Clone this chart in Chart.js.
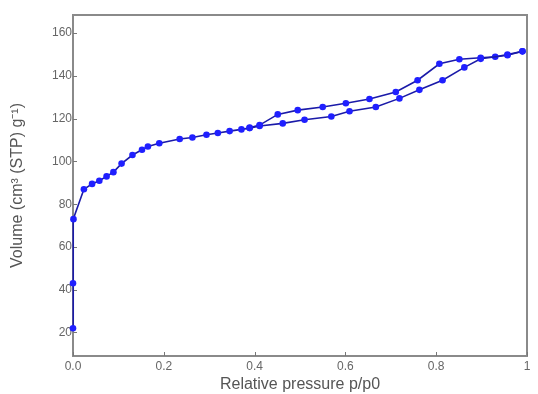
<!DOCTYPE html>
<html>
<head>
<meta charset="utf-8">
<script src="https://cdn.jsdelivr.net/npm/chart.js@4/dist/chart.umd.min.js"></script>
<style>
  html, body { margin: 0; padding: 0; background: #fff; }
  #wrap { width: 538px; height: 394px; }
</style>
</head>
<body>
<div id="wrap"><canvas id="isotherm" width="538" height="394"></canvas></div>
<script>
// 吸着枝 (adsorption)
const adsX = [0.0, 0.0, 0.001, 0.024, 0.042, 0.058, 0.074, 0.089, 0.107, 0.131, 0.152, 0.165, 0.19,
              0.235, 0.263, 0.294, 0.319, 0.345, 0.371, 0.389, 0.411, 0.462, 0.51, 0.569, 0.609,
              0.667, 0.719, 0.763, 0.814, 0.862, 0.898, 0.957, 0.99];
const adsY = [22, 43, 73, 87, 89.5, 91, 93, 95, 99, 103, 105.5, 107, 108.5,
              110.5, 111.2, 112.5, 113.3, 114.2, 115, 115.6, 116.6, 117.8, 119.5, 121, 123.5,
              125.5, 129.5, 133.5, 138, 144, 148, 149.7, 151.5];
// 脱着枝 (desorption)
const desX = [0.99, 0.957, 0.93, 0.898, 0.851, 0.807, 0.759, 0.711, 0.653, 0.601, 0.55, 0.495, 0.451, 0.411, 0.389];
const desY = [151.5, 150, 149, 148.5, 147.8, 145.7, 138, 132.5, 129.2, 127.2, 125.5, 124, 122, 117, 115.8];

const xTicks = [0, 0.2, 0.4, 0.6, 0.8, 1];
const xTickLabels = ['0.0', '0.2', '0.4', '0.6', '0.8', '1'];
const yTicks = [20, 40, 60, 80, 100, 120, 140, 160];

const toPoints = (xs, ys) => xs.map((x, i) => ({ x: x, y: ys[i] }));

// 枠と内向きの目盛り（データより先に描く）
const framePlugin = {
    id: 'frame',
    beforeDatasetsDraw(chart) {
        const { ctx, chartArea: a, scales } = chart;
        ctx.save();
        ctx.strokeStyle = '#8a8a8a';
        ctx.lineWidth = 2;
        ctx.strokeRect(a.left, a.top, a.right - a.left, a.bottom - a.top);
        ctx.lineWidth = 1;
        ctx.strokeStyle = '#777';
        ctx.beginPath();
        xTicks.forEach(v => {
            const px = Math.round(scales.x.getPixelForValue(v)) + 0.5;
            ctx.moveTo(px, a.bottom);
            ctx.lineTo(px, a.bottom - 4);
        });
        yTicks.forEach(v => {
            const py = Math.round(scales.y.getPixelForValue(v)) + 0.5;
            ctx.moveTo(a.left, py);
            ctx.lineTo(a.left + 4, py);
        });
        ctx.stroke();
        ctx.restore();
    }
};

const font = { family: 'Liberation Sans, Arial, sans-serif', size: 12 };
const titleFont = { family: 'Liberation Sans, Arial, sans-serif', size: 16 };

const common = {
    showLine: true,
    clip: false,
    borderColor: '#1a1aa8',
    borderWidth: 1.6,
    backgroundColor: '#1f1fff',
    pointBackgroundColor: '#1f1fff',
    pointBorderColor: '#1f1fff',
    pointRadius: 3.3,
    pointBorderWidth: 0,
    tension: 0,
    fill: false
};

new Chart(document.getElementById('isotherm'), {
    type: 'scatter',
    data: {
        datasets: [
            Object.assign({ label: 'Adsorption', data: toPoints(adsX, adsY) }, common),
            Object.assign({ label: 'Desorption', data: toPoints(desX, desY) }, common)
        ]
    },
    options: {
        responsive: false,
        animation: false,
        devicePixelRatio: 1,
        layout: { padding: { top: 15, right: 11, left: 0, bottom: 0 } },
        plugins: { legend: { display: false }, tooltip: { enabled: false } },
        scales: {
            x: {
                type: 'linear',
                min: 0,
                max: 1,
                afterBuildTicks: s => { s.ticks = xTicks.map(v => ({ value: v })); },
                afterFit: s => { s.height = 38; },
                grid: { display: false, drawTicks: false },
                border: { display: true, color: '#8a8a8a', width: 2 },
                ticks: {
                    color: '#666',
                    font: font,
                    padding: 3,
                    maxRotation: 0,
                    callback: (v) => xTickLabels[xTicks.indexOf(v)] ?? ''
                },
                title: {
                    display: true,
                    text: 'Relative pressure p/p0',
                    color: '#555',
                    font: titleFont,
                    padding: { top: 2, bottom: 0 }
                }
            },
            y: {
                type: 'linear',
                min: 9,
                max: 168.5,
                afterBuildTicks: s => { s.ticks = yTicks.map(v => ({ value: v })); },
                afterFit: s => { s.width = 73; },
                grid: { display: false, drawTicks: false },
                border: { display: true, color: '#8a8a8a', width: 2 },
                ticks: { color: '#666', font: font, padding: 1 },
                title: {
                    display: true,
                    text: 'Volume (cm³ (STP) g⁻¹)',
                    color: '#555',
                    font: titleFont,
                    padding: { top: 8, bottom: 0 }
                }
            }
        }
    },
    plugins: [framePlugin]
});
</script>
</body>
</html>
